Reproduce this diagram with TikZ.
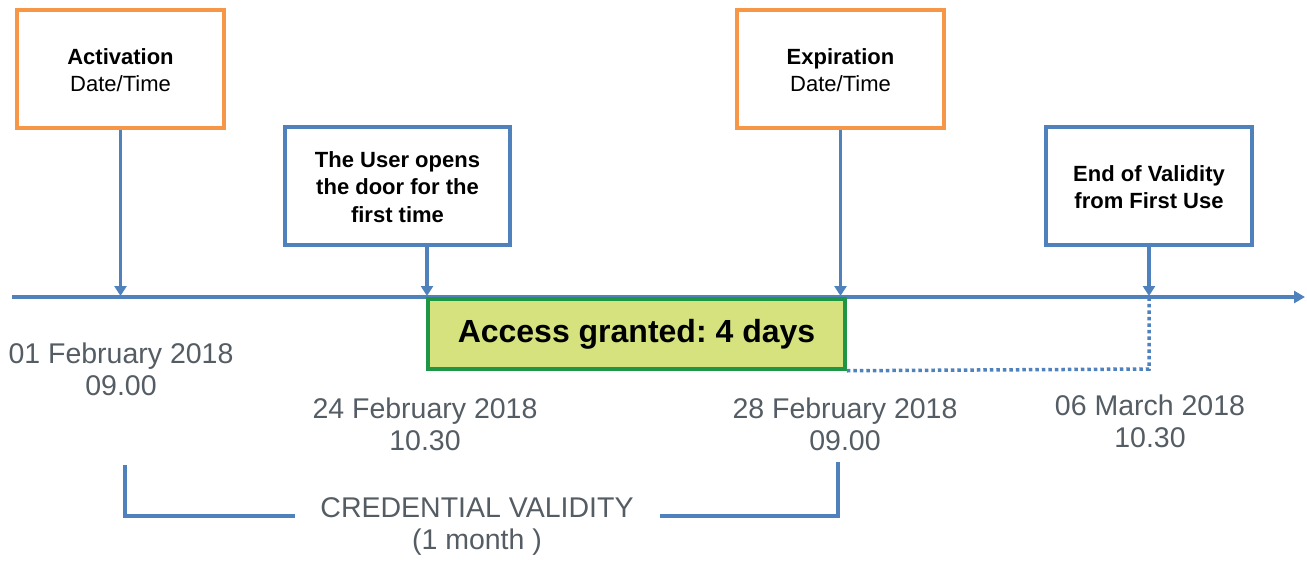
\documentclass[tikz,border=0pt]{standalone}
\usepackage{fontspec}
\setmainfont{Liberation Sans}
\usetikzlibrary{arrows.meta,shadows}
\definecolor{lineblue}{RGB}{79,129,189}
\definecolor{boxorange}{RGB}{247,150,70}
\definecolor{accfill}{RGB}{214,226,125}
\definecolor{accborder}{RGB}{30,150,70}
\definecolor{dategray}{RGB}{84,92,100}
\frenchspacing
\tikzset{
  evbox/.style={draw, line width=3.5pt, fill=white, minimum height=118pt, align=center,
    font=\fontsize{22}{27.5}\selectfont, text=black,
    drop shadow={shadow xshift=2pt, shadow yshift=-2pt, opacity=0.25}},
  orangebox/.style={evbox, draw=boxorange, minimum width=207pt},
  bluebox/.style={evbox, draw=lineblue},
  tick/.style={draw=lineblue, line width=3.5pt, -{Triangle[width=12pt,length=10pt]}},
  axis/.style={draw=lineblue, line width=3.5pt, -{Triangle[width=12pt,length=11pt]}},
  datelbl/.style={align=center, text=dategray, font=\fontsize{28.5}{32}\selectfont},
  brace/.style={draw=lineblue, line width=3.5pt},
  dotline/.style={draw=lineblue, line width=3.5pt, dash pattern=on 3.5pt off 3pt}
}
\begin{document}
\begin{tikzpicture}[x=1pt,y=-1pt]
\useasboundingbox (0,0) rectangle (1307,560);
% timeline
\coordinate (tl0) at (12,297);
\coordinate (tl1) at (1305,297);
\draw[axis] (tl0) -- (tl1);
% event boxes
\node[orangebox] (act) at (120.5,69) {\rule{0pt}{18pt}\textbf{Activation}\\Date/Time};
\node[orangebox] (exp) at (840.5,69) {\rule{0pt}{18pt}\textbf{Expiration}\\Date/Time};
\node[bluebox, minimum width=225pt] (user) at (397.5,186) {\rule{0pt}{18pt}\textbf{The User opens}\\\textbf{the door for the}\\\textbf{first time}};
\node[bluebox, minimum width=206pt] (endv) at (1149,186) {\rule{0pt}{18pt}\textbf{End of Validity}\\\textbf{from First Use}};
% tick points
\coordinate (t1) at (120.5,296);
\coordinate (t2) at (427,296);
\coordinate (t3) at (840.5,296);
\coordinate (t4) at (1149,296);
\draw[tick] (act.south) -- (t1);
\draw[tick] (user.south -| t2) -- (t2);
\draw[tick] (exp.south) -- (t3);
\draw[tick] (endv.south) -- (t4);
% access box
\node[draw=accborder, line width=3.5pt, fill=accfill, minimum width=417pt, minimum height=70pt,
  font=\fontsize{32}{36}\selectfont\bfseries,
  drop shadow={shadow xshift=2pt, shadow yshift=-2pt, opacity=0.25}] (acc) at (636.5,334) {Access granted: 4 days};
\coordinate (dc) at (1149,369);
\draw[dotline] (acc.south east) -- (dc) -- (t4);
% dates
\node[datelbl] (d1) at (121,369) {01 February 2018\\09.00};
\node[datelbl] (d2) at (425,424) {24 February 2018\\10.30};
\node[datelbl] (d3) at (845,424) {28 February 2018\\09.00};
\node[datelbl] (d4) at (1150,421) {06 March 2018\\10.30};
% credential validity
\node[datelbl] (cv) at (477,526) {CREDENTIAL VALIDITY\\(1 month )};
\coordinate (b1) at (125,465);
\coordinate (b2) at (125,516);
\coordinate (b3) at (295,516);
\coordinate (b4) at (660,516);
\coordinate (b5) at (838,516);
\coordinate (b6) at (838,462);
\draw[brace] (b1) -- (b2) -- (b3);
\draw[brace] (b4) -- (b5) -- (b6);
\end{tikzpicture}
\end{document}
